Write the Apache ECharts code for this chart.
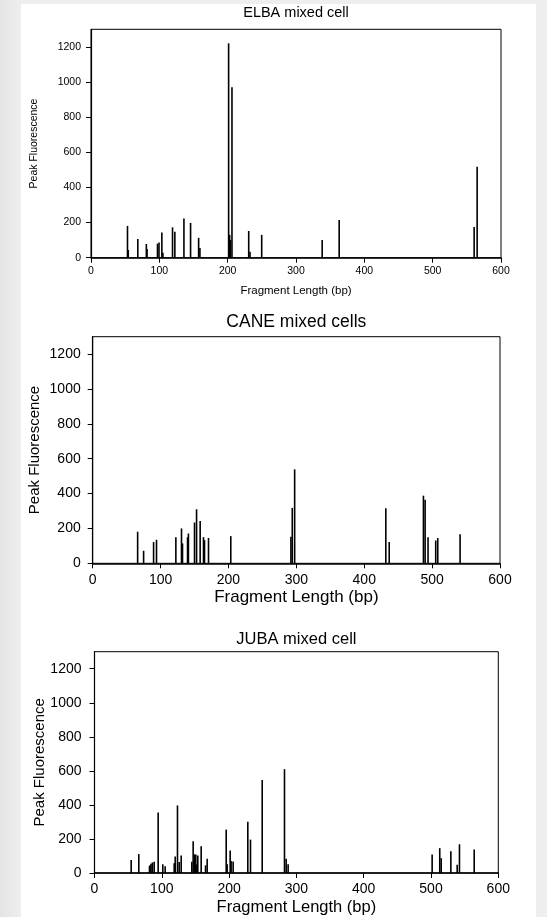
<!DOCTYPE html>
<html>
<head>
<meta charset="utf-8">
<script src="https://cdn.jsdelivr.net/npm/echarts@6/dist/echarts.min.js"></script>
<style>
  html, body { margin: 0; padding: 0; width: 547px; height: 917px; overflow: hidden;
    background: linear-gradient(to right, #e4e4e4 0px, #eeeeee 21px, #eeeeee 100%); }
  #sheet { position: absolute; left: 21px; top: 4px; width: 515px; height: 913px; background: #ffffff; }
  #chart { position: absolute; left: 0; top: 0; width: 547px; height: 917px; }
</style>
</head>
<body>
<div id="sheet"></div>
<div id="chart"></div>
<script>
// Fragment length (bp) and peak fluorescence for each sample
const elbaLength = [53.4, 54.5, 68.5, 81, 82, 97.3, 99.5, 103.7, 105.2, 119.3, 122.7, 136, 145.7, 157.5, 159.4, 201.4, 202.9, 204, 206.3, 230.8, 232.7, 249.8, 338.3, 363.2, 560.7, 565.1];
const elbaPeak   = [181, 44, 107, 78, 50, 80, 86, 143, 28, 173, 147, 223, 198, 113, 55, 1220, 130, 101, 970, 152, 34, 130, 101, 215, 175, 518];

const caneLength = [66.2, 75, 89.7, 94, 122.5, 130.8, 132.3, 139.7, 141, 150, 153, 158.3, 163.2, 164.7, 170.6, 203.4, 292, 294, 297.5, 431.8, 436.8, 487.2, 489.7, 494, 505.3, 508.3, 541.2];
const canePeak   = [181, 72, 122, 135, 149, 200, 114, 149, 171, 234, 310, 242, 150, 133, 145, 156, 152, 318, 539, 316, 122, 388, 364, 150, 131, 145, 166];

const jubaLength = [54.5, 65.8, 81.7, 82.7, 84, 86, 88.7, 94.6, 101.5, 105, 118.4, 119.9, 123.3, 125.8, 128.8, 144.6, 146.6, 148.6, 150.5, 151.5, 153.5, 158.5, 165, 167.4, 195.7, 197.1, 201.6, 203, 206, 227.8, 231.8, 249.2, 282.3, 284.8, 287.7, 501.7, 513, 515.2, 529.5, 538.9, 542.3, 564.2];
const jubaPeak   = [76, 111, 41, 45, 55, 62, 66, 356, 52, 39, 58, 97, 397, 64, 103, 66, 187, 109, 109, 50, 103, 157, 45, 84, 255, 51, 132, 70, 68, 301, 196, 546, 610, 84, 52, 109, 146, 87, 128, 49, 169, 138];

const panelTitles = ['ELBA mixed cell', 'CANE mixed cells', 'JUBA mixed cell'];
const xTitle = 'Fragment Length (bp)';
const yTitle = 'Peak Fluorescence';
const yTicks = [0, 200, 400, 600, 800, 1000, 1200];
const xTicks = [0, 100, 200, 300, 400, 500, 600];

const FONT = 'Liberation Sans, Arial, sans-serif';

// Panel geometry and type sizes
const panels = [
  { left: 91,   right: 46,   top: 29.3,  bottom: 917 - 257.7, tick: 10.5, axisName: 11.5, yName: 10.5, title: 14.5, titleY: 13,  xGap: 27, yGap: 51, xMargin: 8,  yMargin: 10 },
  { left: 92.7, right: 47,   top: 336.7, bottom: 917 - 563.3, tick: 14,   axisName: 17,   yName: 15,   title: 17.5, titleY: 322, xGap: 26, yGap: 50, xMargin: 10, yMargin: 12 },
  { left: 94.5, right: 48.7, top: 651.7, bottom: 917 - 876,   tick: 14,   axisName: 16.5, yName: 15,   title: 16.5, titleY: 639, xGap: 26, yGap: 47, xMargin: 9,  yMargin: 13 }
];

const seriesData = [
  elbaLength.map((x, i) => [x, elbaPeak[i]]),
  caneLength.map((x, i) => [x, canePeak[i]]),
  jubaLength.map((x, i) => [x, jubaPeak[i]])
];

const chart = echarts.init(document.getElementById('chart'), null, { renderer: 'canvas' });

const grid = panels.map(p => ({
  left: p.left, right: p.right, top: p.top, bottom: p.bottom,
  show: true, borderColor: '#000', borderWidth: 1, backgroundColor: 'transparent'
}));

const plain = v => String(v);

const xAxis = panels.map((p, i) => ({
  type: 'value', gridIndex: i, min: 0, max: 600, interval: 100,
  name: xTitle, nameLocation: 'middle', nameGap: p.xGap, nameMoveOverlap: false,
  nameTextStyle: { fontFamily: FONT, fontSize: p.axisName, color: '#000' },
  axisLine: { show: true, onZero: false, lineStyle: { color: '#000', width: 1.5 } },
  axisTick: { show: true, inside: false, length: 5, customValues: xTicks, lineStyle: { color: '#000', width: 1 } },
  axisLabel: { fontFamily: FONT, fontSize: p.tick, color: '#000', margin: p.xMargin, customValues: xTicks, formatter: plain },
  splitLine: { show: false }
}));

const yAxis = panels.map((p, i) => ({
  type: 'value', gridIndex: i, min: 0, max: 1300, interval: 100,
  name: yTitle, nameLocation: 'middle', nameGap: p.yGap, nameRotate: 90, nameMoveOverlap: false,
  nameTextStyle: { fontFamily: FONT, fontSize: p.yName, color: '#000' },
  axisLine: { show: true, onZero: false, lineStyle: { color: '#000', width: 1.2 } },
  axisTick: { show: true, inside: false, length: 5, customValues: yTicks, lineStyle: { color: '#000', width: 1 } },
  axisLabel: { fontFamily: FONT, fontSize: p.tick, color: '#000', margin: p.yMargin, customValues: yTicks, formatter: plain },
  splitLine: { show: false }
}));

const series = seriesData.map((d, i) => ({
  type: 'bar', xAxisIndex: i, yAxisIndex: i, data: d,
  barWidth: 1.6, barGap: '-100%', silent: true,
  itemStyle: { color: '#000' }, animation: false
}));

chart.setOption({
  animation: false,
  backgroundColor: 'transparent',
  grid, xAxis, yAxis, series,
  graphic: panels.map((p, i) => ({
    type: 'text', silent: true,
    x: p.left + (547 - p.left - p.right) / 2, y: p.titleY,
    style: {
      text: panelTitles[i], align: 'center', verticalAlign: 'middle',
      fontFamily: FONT, fontSize: p.title, fill: '#000'
    }
  }))
});
</script>
</body>
</html>
